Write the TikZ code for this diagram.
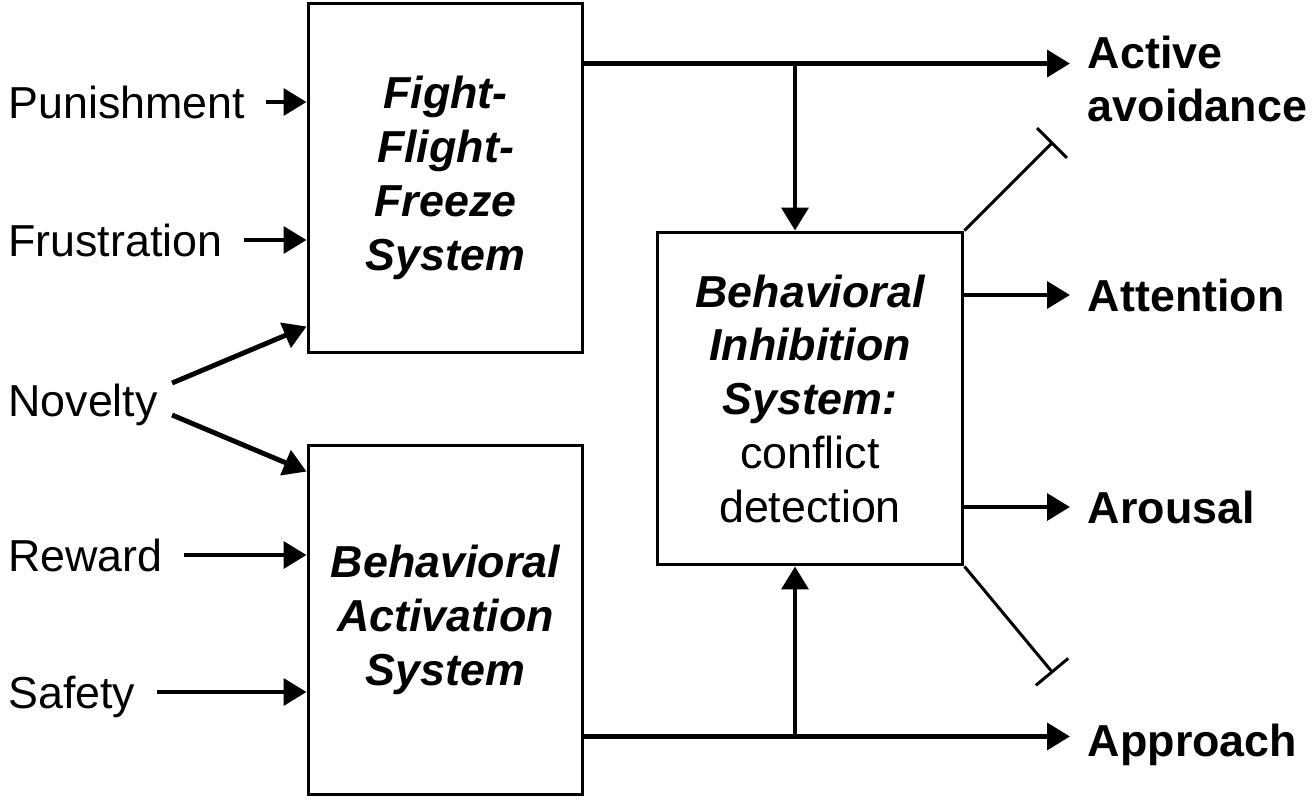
\documentclass[tikz,border=0pt]{standalone}
\usepackage{fontspec}
\setmainfont{Liberation Sans}
\usepackage{tikz}
\usetikzlibrary{arrows.meta,calc}
\tikzstyle{Sys}=[rectangle, draw=black, line width=1.7pt, align=center, font=\bfseries\itshape]
\tikzstyle{InLbl}=[anchor=west, inner sep=0pt, text height=18.3pt, text depth=0pt]
\tikzstyle{OutLbl}=[anchor=west, inner xsep=10pt, inner ysep=0pt, text height=18.3pt, text depth=0pt, font=\bfseries]
\tikzstyle{Feed}=[line width=2.8pt, shorten <=12pt, -{Triangle[length=13pt,width=15pt]}]
\tikzstyle{Link}=[line width=2.8pt, -{Triangle[length=13pt,width=15pt]}]
\tikzstyle{Inhib}=[line width=1.7pt, -{Bar[width=24pt]}]

\begin{document}
\fontsize{25.5}{30.6}\selectfont
\begin{tikzpicture}[x=0.02cm, y=-0.02cm]
    \useasboundingbox (0,0) rectangle (1312,799);
    \path
    (445.5,178) node[Sys, minimum width=5.5cm, minimum height=7cm] (fffs) {Fight-\\Flight-\\Freeze\\System}
    (445.5,620) node[Sys, minimum width=5.5cm, minimum height=7cm] (bas) {Behavioral\\Activation\\System}
    (810,398.5) node[Sys, minimum width=6.12cm, minimum height=6.66cm] (bis) {Behavioral\\Inhibition\\System:\\{\mdseries\upshape conflict}\\{\mdseries\upshape detection}};
    \path
    (8,102) node[InLbl] (pun) {Punishment}
    (8,240) node[InLbl] (fru) {Frustration}
    (8,400) node[InLbl] (nov) {Novelty}
    (8,555) node[InLbl] (rew) {Reward}
    (8,692) node[InLbl] (saf) {Safety};
    \path
    (1070,79) node[anchor=west, inner xsep=10pt, inner ysep=0pt, align=left, font=\bfseries] (act) {Active\\avoidance}
    (1070,295) node[OutLbl] (att) {Attention}
    (1070,507) node[OutLbl] (aro) {Arousal}
    (1070,740) node[OutLbl] (app) {Approach};

    \coordinate (fout) at ($(fffs.north east)+(0,62)$);
    \coordinate (bout) at ($(bas.south east)+(0,-60)$);
    \coordinate (jtop) at (795,65);
    \coordinate (jbot) at (795,735);
    \coordinate (inhtop) at (1053,142);
    \coordinate (inhbot) at (1053,673);

    % inputs
    \draw[Feed] (pun.east) -- (pun.east -| fffs.west);
    \draw[Feed] (fru.east) -- (fru.east -| fffs.west);
    \draw[Feed] (rew.east) -- (rew.east -| bas.west);
    \draw[Feed] (saf.east) -- (saf.east -| bas.west);
    \draw[Link] ($(nov.east)+(14,-17)$) -- ($(fffs.south west)+(0,-28)$);
    \draw[Link] ($(nov.east)+(14,15)$) -- ($(bas.north west)+(0,28)$);

    % outputs
    \draw[Link] (fout) -- (fout -| act.west);
    \draw[Link] (bout) -- (bout -| app.west);
    \draw[Link] (jtop) -- (jtop |- bis.north);
    \draw[Link] (jbot) -- (jbot |- bis.south);
    \draw[Link] (att.west -| bis.east) -- (att.west);
    \draw[Link] (aro.west -| bis.east) -- (aro.west);
    \draw[Inhib] (bis.north east) -- (inhtop);
    \draw[Inhib] (bis.south east) -- (inhbot);
\end{tikzpicture}
\end{document}
